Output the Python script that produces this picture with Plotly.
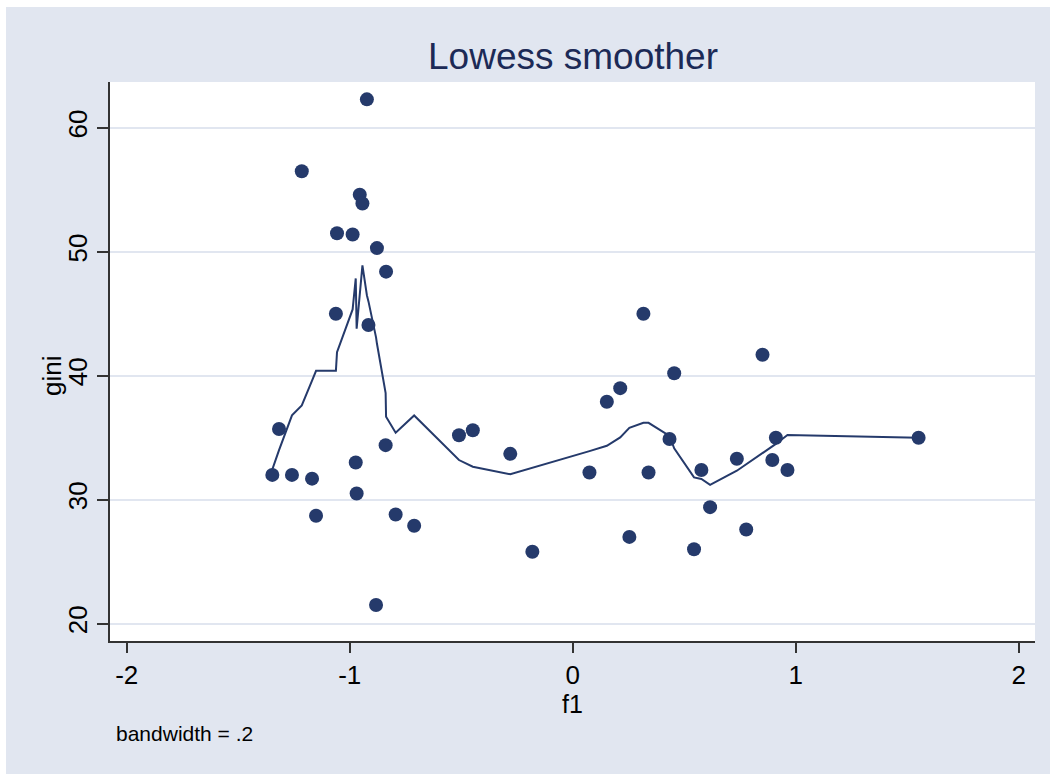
import plotly.graph_objects as go

# Data points (f1, gini)
f1 = [-1.347, -1.317, -1.259, -1.215, -1.169, -1.151, -1.062, -1.057, -0.987, -0.973,
      -0.969, -0.955, -0.943, -0.923, -0.916, -0.882, -0.878, -0.839, -0.837, -0.794,
      -0.711, -0.510, -0.448, -0.280, -0.181, 0.075, 0.153, 0.213, 0.254, 0.317,
      0.340, 0.434, 0.455, 0.544, 0.577, 0.616, 0.736, 0.778, 0.851, 0.895,
      0.911, 0.963, 1.551]
gini = [32.0, 35.7, 32.0, 56.5, 31.7, 28.7, 45.0, 51.5, 51.4, 33.0,
        30.5, 54.6, 53.9, 62.3, 44.1, 21.5, 50.3, 34.4, 48.4, 28.8,
        27.9, 35.2, 35.6, 33.7, 25.8, 32.2, 37.9, 39.0, 27.0, 45.0,
        32.2, 34.9, 40.2, 26.0, 32.4, 29.4, 33.3, 27.6, 41.7, 33.2,
        35.0, 32.4, 35.0]

# Lowess smoothed values, at the same f1 values
lowess_gini = [32.45, 34.0, 36.8, 37.6, 39.6, 40.4, 40.4, 41.9, 45.35, 47.85,
               43.8, 46.5, 48.9, 46.5, 46.0, 43.1, 42.6, 38.6, 36.7, 35.4,
               36.8, 33.2, 32.66, 32.05, 32.56, 33.92, 34.35, 35.03, 35.8, 36.2,
               36.2, 35.14, 34.14, 31.8, 31.67, 31.2, 32.34, 32.85, 33.75, 34.3,
               34.5, 35.22, 35.0]

x_ticks = [-2, -1, 0, 1, 2]
y_ticks = [20, 30, 40, 50, 60]

NAVY = "#253a6b"
BG = "#e1e6f0"
FONT = "Liberation Sans, Arial, Helvetica, sans-serif"

fig = go.Figure()
fig.add_trace(go.Scatter(
    x=f1, y=gini, mode="markers",
    marker=dict(size=14, color=NAVY, line=dict(width=0)),
    showlegend=False, hoverinfo="x+y"))
fig.add_trace(go.Scatter(
    x=f1, y=lowess_gini, mode="lines",
    line=dict(color=NAVY, width=2),
    showlegend=False))

L, R, T, B = 110, 15, 82, 133
W, H = 1050, 774
pw, ph = W - L - R, H - T - B

def px_x(p):
    return (p - L) / pw

def px_y(p):
    return (H - B - p) / ph

shapes = [
    # white strips at left and top edges
    dict(type="rect", xref="paper", yref="paper",
         x0=px_x(-5), x1=px_x(6), y0=px_y(H + 5), y1=px_y(-5),
         fillcolor="white", line=dict(width=0), layer="below"),
    dict(type="rect", xref="paper", yref="paper",
         x0=px_x(-5), x1=px_x(W + 5), y0=px_y(7), y1=px_y(-5),
         fillcolor="white", line=dict(width=0), layer="below"),
]

annotations = [
    dict(text="bandwidth = .2", xref="paper", yref="paper",
         x=px_x(114), y=px_y(733), xanchor="left", yanchor="middle",
         showarrow=False, font=dict(size=21, color="black", family=FONT)),
    dict(text="f1", xref="paper", yref="paper",
         x=px_x(572), y=px_y(704), xanchor="center", yanchor="middle",
         showarrow=False, font=dict(size=25, color="black", family=FONT)),
    dict(text="gini", xref="paper", yref="paper", textangle=-90,
         x=px_x(52), y=px_y(376), xanchor="center", yanchor="middle",
         showarrow=False, font=dict(size=26, color="black", family=FONT)),
]

fig.update_layout(
    width=W, height=H,
    margin=dict(l=L, r=R, t=T, b=B),
    paper_bgcolor=BG, plot_bgcolor="white",
    font=dict(family=FONT, color="black"),
    title=dict(text="Lowess smoother", xref="paper", x=px_x(573), xanchor="center",
               y=(H - 56) / H, yanchor="middle", yref="container",
               font=dict(size=37, color="#1c2a56", family=FONT)),
    shapes=shapes,
    annotations=annotations,
    xaxis=dict(range=[-2.075, 2.073], tickvals=x_ticks, ticktext=[str(v) for v in x_ticks],
               showgrid=False, zeroline=False, showline=True, linecolor="#333333", linewidth=1.5,
               ticks="outside", ticklen=10, tickwidth=1.5, tickcolor="#333333",
               tickfont=dict(size=26, color="black")),
    yaxis=dict(range=[18.6, 63.7], tickvals=y_ticks, ticktext=[str(v) for v in y_ticks],
               showgrid=True, gridcolor=BG, gridwidth=2,
               zeroline=False, showline=True, linecolor="#333333", linewidth=1.5,
               ticks="outside", ticklen=11, tickwidth=1.5, tickcolor="#333333",
               tickangle=-90, tickfont=dict(size=26, color="black")),
)

fig.write_html("out.html", config={"displayModeBar": False},
               post_script="document.body.style.margin='0';")
